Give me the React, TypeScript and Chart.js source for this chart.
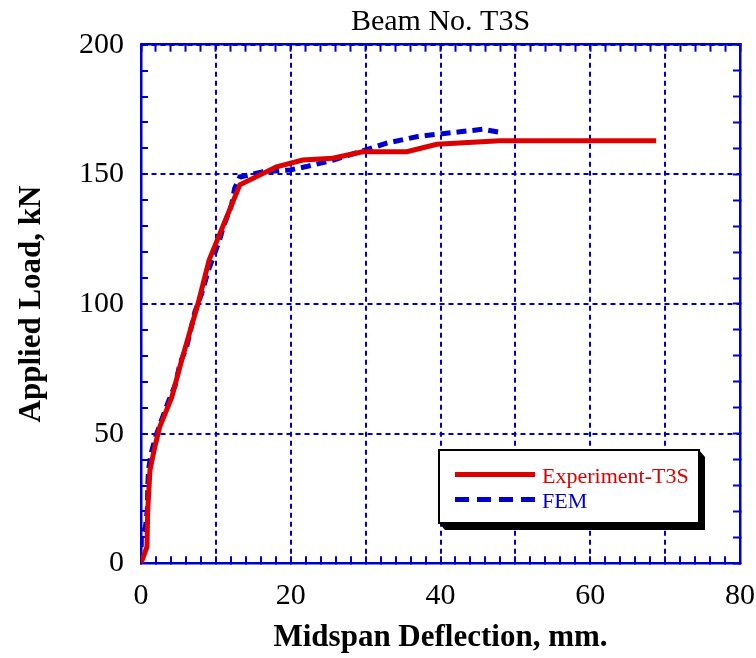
import React, { useEffect, useRef } from 'react';
import { Chart, registerables } from 'chart.js';

Chart.register(...registerables);

// ---- data ----
const expDeflection = [0, 0.8, 0.9, 1.2, 1.9, 2.5, 4.1, 5.5, 7.6, 9.1, 13.2, 18.1, 21.6, 25.6, 29.6, 35.5, 39.5, 47.9, 68.8];
const expLoad = [0, 6.4, 20.5, 36, 45.6, 52.6, 64, 79, 100, 117, 146, 152.9, 155.5, 156.2, 158.7, 158.7, 161.6, 163, 163];

const femDeflection = [0, 0.05, 0.6, 0.85, 0.9, 1.0, 1.35, 1.95, 2.75, 3.65, 4.6, 5.2, 6.1, 7.2, 8.1, 9.0, 9.65, 10.5, 11.0, 12.1, 12.5, 13.2, 16.3, 19.9, 22.1, 25.7, 29.2, 32.8, 36.8, 38.1, 42.6, 45.7, 47.9];
const femLoad = [0, 10, 14, 21, 29, 36, 42.4, 48.8, 55.3, 62.3, 69, 77, 83.5, 97, 104, 113, 118, 124.7, 129.8, 138.2, 144.5, 149, 151, 151.7, 153, 155.5, 158.7, 162, 164.5, 165, 166.4, 167.4, 166.2];

const seriesLabels = ['Experiment-T3S', 'FEM'];
const xTickLabels = [0, 20, 40, 60, 80];
const yTickLabels = [0, 50, 100, 150, 200];

const RED = '#dd0000';
const BLUE = '#0000cc';
const CLEAR = 'rgba(0,0,0,0)';
const SERIF = '"Liberation Serif", "Times New Roman", serif';

const boxLegend = {
  id: 'boxLegend',
  afterDraw(chart: any) {
    const { ctx } = chart;
    const bx = 439, by = 450, bw = 260, bh = 73;
    ctx.save();
    ctx.fillStyle = '#000';
    ctx.beginPath();
    ctx.moveTo(bx + bw, by);
    ctx.lineTo(bx + bw + 6, by + 7);
    ctx.lineTo(bx + bw + 6, by + bh + 7);
    ctx.lineTo(bx + 6, by + bh + 7);
    ctx.lineTo(bx, by + bh);
    ctx.closePath();
    ctx.fill();
    ctx.fillStyle = '#fff';
    ctx.fillRect(bx, by, bw, bh);
    ctx.lineWidth = 2;
    ctx.strokeStyle = '#000';
    ctx.strokeRect(bx, by, bw, bh);
    const rows = [474.5, 499.5];
    chart.data.datasets.forEach((ds: any, i: number) => {
      const y = rows[i];
      ctx.beginPath();
      ctx.setLineDash(i === 1 ? [14, 8] : []);
      ctx.lineWidth = 5;
      ctx.strokeStyle = ds.borderColor;
      ctx.moveTo(455, y);
      ctx.lineTo(535, y);
      ctx.stroke();
      ctx.setLineDash([]);
      ctx.fillStyle = ds.borderColor;
      ctx.font = `22px ${SERIF}`;
      ctx.textBaseline = 'alphabetic';
      ctx.textAlign = 'left';
      ctx.fillText(ds.label, 542, y + 8);
    });
    ctx.restore();
  },
};

export default function App() {
  const ref = useRef<HTMLCanvasElement>(null);

  useEffect(() => {
    const tickFont = { family: SERIF, size: 30 };
    const chart = new Chart(ref.current as HTMLCanvasElement, {
      type: 'scatter',
      data: {
        datasets: [
          {
            label: seriesLabels[0],
            data: expDeflection.map((x, i) => ({ x, y: expLoad[i] })),
            showLine: true,
            borderColor: RED,
            backgroundColor: RED,
            borderWidth: 5,
            pointRadius: 0,
            tension: 0,
            fill: false,
          },
          {
            label: seriesLabels[1],
            data: femDeflection.map((x, i) => ({ x, y: femLoad[i] })),
            showLine: true,
            borderColor: BLUE,
            backgroundColor: BLUE,
            borderWidth: 5,
            borderDash: [10, 6],
            pointRadius: 0,
            tension: 0,
            fill: false,
          },
        ],
      },
      plugins: [boxLegend],
      options: {
        animation: false,
        responsive: false,
        layout: { padding: { left: 0, right: 16, top: 0, bottom: 0 } },
        plugins: {
          legend: { display: false },
          tooltip: { enabled: false },
          title: {
            display: true,
            fullSize: false,
            text: 'Beam No. T3S',
            color: '#000',
            font: { family: SERIF, size: 30, weight: 'normal' },
            padding: { top: 4, bottom: 4.7 },
          },
        },
        scales: {
          x: {
            type: 'linear',
            position: 'bottom',
            min: 0,
            max: 80,
            afterFit: (s: any) => {
              s.height = 658 - 563.3;
              s.paddingRight = 10;
              s.paddingLeft = 10;
            },
            ticks: {
              stepSize: 2,
              autoSkip: false,
              maxRotation: 0,
              padding: 22,
              color: '#000',
              font: tickFont,
              callback: (v: any) => (xTickLabels.includes(Number(v)) ? String(v) : ''),
            },
            grid: {
              color: (c: any) => (c.tick && Math.round(c.tick.value) % 10 === 0 ? BLUE : CLEAR),
              lineWidth: 2,
              drawTicks: true,
              tickLength: -7,
              tickColor: BLUE,
              tickWidth: 2,
            },
            border: { display: true, color: BLUE, width: 2.5, dash: [5, 4] },
            title: {
              display: true,
              text: 'Midspan Deflection, mm.',
              color: '#000',
              font: { family: SERIF, size: 31, weight: 'bold' },
              padding: { top: 0, bottom: 1 },
            },
          },
          x2: {
            type: 'linear',
            position: 'top',
            min: 0,
            max: 80,
            afterFit: (s: any) => {
              s.height = 0;
              s.paddingRight = 0;
              s.paddingLeft = 0;
            },
            ticks: { stepSize: 2, autoSkip: false, display: false },
            grid: { drawOnChartArea: false, drawTicks: true, tickLength: -7, tickColor: BLUE, tickWidth: 2 },
            border: { display: true, color: BLUE, width: 2.5 },
          },
          y: {
            type: 'linear',
            position: 'left',
            min: 0,
            max: 200,
            afterFit: (s: any) => { s.width = 141; },
            ticks: {
              stepSize: 10,
              autoSkip: false,
              padding: 24,
              color: '#000',
              font: tickFont,
              callback: (v: any) => (yTickLabels.includes(Number(v)) ? String(v) : ''),
            },
            grid: {
              color: (c: any) => (c.tick && Math.round(c.tick.value) % 50 === 0 ? BLUE : CLEAR),
              lineWidth: 2,
              drawTicks: true,
              tickLength: -7,
              tickColor: BLUE,
              tickWidth: 2,
            },
            border: { display: true, color: BLUE, width: 2.5, dash: [5, 4] },
            title: {
              display: true,
              text: 'Applied Load, kN',
              color: '#000',
              font: { family: SERIF, size: 31, weight: 'bold' },
              padding: { top: 13, bottom: 0 },
            },
          },
          y2: {
            type: 'linear',
            position: 'right',
            min: 0,
            max: 200,
            afterFit: (s: any) => { s.width = 0; },
            ticks: { stepSize: 10, autoSkip: false, display: false },
            grid: { drawOnChartArea: false, drawTicks: true, tickLength: -7, tickColor: BLUE, tickWidth: 2 },
            border: { display: true, color: BLUE, width: 2.5 },
          },
        },
      } as any,
    });
    return () => chart.destroy();
  }, []);

  return (
    <div style={{ position: 'fixed', left: 0, top: 0, width: 756, height: 658, background: '#fff' }}>
      <canvas ref={ref} width={756} height={658} style={{ display: 'block' }} />
    </div>
  );
}
